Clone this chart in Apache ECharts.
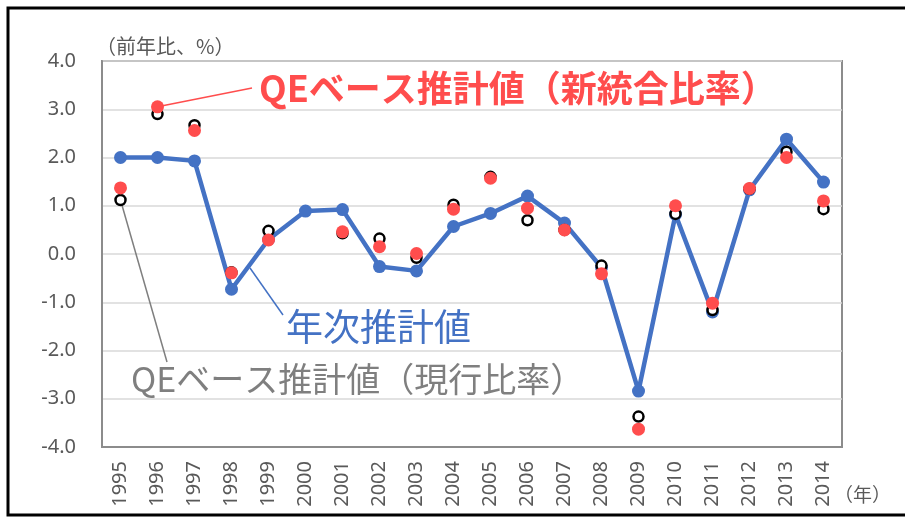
<!DOCTYPE html>
<html>
<head>
<meta charset="utf-8">
<script src="https://cdn.jsdelivr.net/npm/echarts@6/dist/echarts.min.js"></script>
<style>
html,body{margin:0;padding:0;background:#fff;}
#main{width:905px;height:520px;}
</style>
</head>
<body>
<div id="main"></div>
<script>
var years = ['1995','1996','1997','1998','1999','2000','2001','2002','2003','2004',
             '2005','2006','2007','2008','2009','2010','2011','2012','2013','2014'];
// 年次推計値
var annual = [2.0, 2.0, 1.93, -0.73, 0.30, 0.89, 0.92, -0.26, -0.35, 0.57,
              0.84, 1.20, 0.64, -0.28, -2.84, 0.82, -1.20, 1.33, 2.38, 1.49];
// QEベース推計値（現行比率）
var qeCurrent = [1.12, 2.90, 2.67, -0.38, 0.48, null, 0.43, 0.32, -0.08, 1.02,
                 1.60, 0.70, 0.50, -0.24, -3.37, 0.83, -1.16, 1.35, 2.12, 0.93];
// QEベース推計値（新統合比率）
var qeNew = [1.37, 3.05, 2.56, -0.39, 0.29, null, 0.46, 0.15, 0.01, 0.93,
             1.57, 0.95, 0.50, -0.41, -3.63, 1.00, -1.02, 1.36, 2.00, 1.10];
var yTicks = [-4, -3, -2, -1, 0, 1, 2, 3, 4];

var FONT = '"Noto Sans CJK JP", "Noto Sans", sans-serif';
var NUMFONT = '"Noto Sans", sans-serif';
var chart = echarts.init(document.getElementById('main'));

var option = {
  animation: false,
  textStyle: { fontFamily: FONT },
  grid: {
    left: 102, top: 61, width: 740, height: 386,
    show: true, borderColor: '#8c8c8c', borderWidth: 2, backgroundColor: 'transparent'
  },
  xAxis: {
    type: 'category',
    data: years,
    boundaryGap: true,
    axisLine: { onZero: false, lineStyle: { color: '#8c8c8c', width: 2 } },
    axisTick: { show: false },
    axisLabel: { rotate: 90, fontSize: 20, color: '#595959', margin: 14, fontFamily: NUMFONT }
  },
  yAxis: {
    type: 'value',
    min: yTicks[0], max: yTicks[yTicks.length - 1], interval: 1,
    axisLine: { show: true, lineStyle: { color: '#8c8c8c', width: 2 } },
    axisTick: { show: false },
    splitLine: { lineStyle: { color: '#d9d9d9', width: 1.5 } },
    axisLabel: {
      fontSize: 20, color: '#595959', margin: 26, fontFamily: NUMFONT,
      formatter: function (v) { return v.toFixed(1); }
    }
  },
  series: [
    {
      name: '年次推計値', type: 'line', data: annual, z: 2,
      symbol: 'circle', symbolSize: 13,
      lineStyle: { color: '#4472c4', width: 4.5 },
      itemStyle: { color: '#4472c4' }
    },
    {
      name: 'QEベース推計値（現行比率）', type: 'line', data: qeCurrent, z: 3,
      symbol: 'circle', symbolSize: 10,
      lineStyle: { width: 0, opacity: 0 },
      itemStyle: { color: '#ffffff', borderColor: '#000000', borderWidth: 2.5 }
    },
    {
      name: 'QEベース推計値（新統合比率）', type: 'line', data: qeNew, z: 4,
      symbol: 'circle', symbolSize: 13,
      lineStyle: { width: 0, opacity: 0 },
      itemStyle: { color: '#ff4d4d' }
    }
  ]
};
chart.setOption(option);

var pRed = chart.convertToPixel({ seriesIndex: 2 }, [1, qeNew[1]]);
var pGrey = chart.convertToPixel({ seriesIndex: 1 }, [0, qeCurrent[0]]);

chart.setOption({
  graphic: [
    { type: 'rect', shape: { x: 8, y: 8, width: 910, height: 507 },
      style: { fill: 'none', stroke: '#000', lineWidth: 3 } },
    { type: 'text', x: 96, y: 46,
      style: { text: '（前年比、%）', font: '20px ' + FONT, fill: '#595959', textVerticalAlign: 'middle' } },
    { type: 'text', x: 834, y: 495,
      style: { text: '（年）', font: '19px ' + FONT, fill: '#595959', textVerticalAlign: 'middle' } },
    // red annotation
    { type: 'line', shape: { x1: pRed[0], y1: pRed[1], x2: 252, y2: 88 },
      style: { stroke: '#ff4d4d', lineWidth: 1.5 } },
    { type: 'text', x: 259, y: 88,
      style: { text: 'QEベース推計値（新統合比率）', font: 'bold 36px ' + FONT, fill: '#ff4d4d', textVerticalAlign: 'middle' } },
    // blue annotation
    { type: 'line', shape: { x1: 250, y1: 268, x2: 283, y2: 315 },
      style: { stroke: '#4472c4', lineWidth: 1.5 } },
    { type: 'text', x: 286, y: 327,
      style: { text: '年次推計値', font: '37px ' + FONT, fill: '#4472c4', textVerticalAlign: 'middle' } },
    // grey annotation
    { type: 'line', shape: { x1: pGrey[0], y1: pGrey[1], x2: 167, y2: 362 },
      style: { stroke: '#7f7f7f', lineWidth: 1.5 } },
    { type: 'text', x: 131, y: 379,
      style: { text: 'QEベース推計値（現行比率）', font: '34px ' + FONT, fill: '#7f7f7f', textVerticalAlign: 'middle' } }
  ]
});
</script>
</body>
</html>
